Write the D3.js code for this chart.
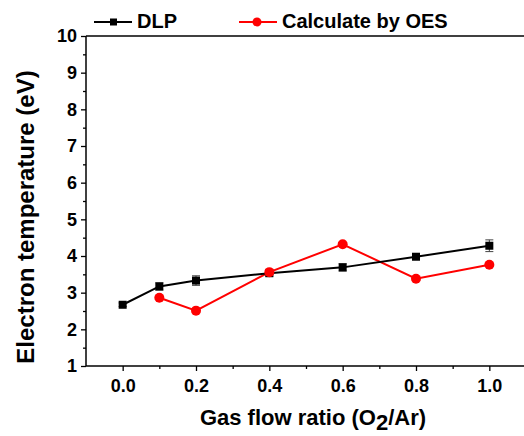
<!DOCTYPE html>
<html>
<head>
<meta charset="utf-8">
<script src="https://cdn.jsdelivr.net/npm/d3@7"></script>
<style>
  body { margin: 0; background: #fff; }
  text { font-family: "Liberation Sans", Arial, sans-serif; font-weight: bold; }
</style>
</head>
<body>
<script>
// data
var ratio = [0.0, 0.1, 0.2, 0.4, 0.6, 0.8, 1.0];
var dlp = [2.67, 3.17, 3.33, 3.53, 3.69, 3.98, 4.28];
var dlpErr = [0.05, 0.10, 0.13, 0.08, 0.10, 0.07, 0.16];
var oesRatio = [0.1, 0.2, 0.4, 0.6, 0.8, 1.0];
var oes = [2.86, 2.51, 3.56, 4.32, 3.38, 3.76];
var xTicks = [0.0, 0.2, 0.4, 0.6, 0.8, 1.0];
var yTicks = [1, 2, 3, 4, 5, 6, 7, 8, 9, 10];

var width = 524, height = 436;

var svg = d3.select("body").append("svg")
    .attr("width", width)
    .attr("height", height);

var x = d3.scaleLinear().domain([-0.1, 1.1]).range([86, 526]);
var y = d3.scaleLinear().domain([1, 10]).range([366, 36]);

// minor ticks
svg.append("g")
    .attr("transform", "translate(0,366)")
    .call(d3.axisBottom(x).tickValues([0.1, 0.3, 0.5, 0.7, 0.9]).tickSize(3).tickFormat(""))
    .call(function (g) { g.select(".domain").remove(); g.selectAll("line").attr("stroke-width", 1.3); });
svg.append("g")
    .attr("transform", "translate(86,0)")
    .call(d3.axisLeft(y).tickValues(d3.range(1.5, 10, 1)).tickSize(3).tickFormat(""))
    .call(function (g) { g.select(".domain").remove(); g.selectAll("line").attr("stroke-width", 1.3); });

// x axis
var xa = svg.append("g")
    .attr("transform", "translate(0,366)")
    .call(d3.axisBottom(x).tickValues(xTicks).tickSize(5).tickPadding(8).tickFormat(d3.format(".1f")));
// y axis
var ya = svg.append("g")
    .attr("transform", "translate(86,0)")
    .call(d3.axisLeft(y).tickValues(yTicks).tickSize(5).tickPadding(4).tickFormat(d3.format("d")));

[xa, ya].forEach(function (g) {
    g.select(".domain").remove();
    g.selectAll("line").attr("stroke-width", 1.3);
    g.selectAll("text").attr("fill", "#000").style("font-size", "18px");
});

// frame lines
svg.append("line").attr("x1", 86).attr("x2", 526).attr("y1", 366).attr("y2", 366)
    .attr("stroke", "#000").attr("stroke-width", 1.5);
svg.append("line").attr("x1", 86).attr("x2", 526).attr("y1", 36).attr("y2", 36)
    .attr("stroke", "#000").attr("stroke-width", 1.5);
svg.append("line").attr("x1", 86).attr("x2", 86).attr("y1", 36).attr("y2", 366)
    .attr("stroke", "#000").attr("stroke-width", 1.5);

// axis titles
var xt = svg.append("text")
    .attr("x", 313).attr("y", 425)
    .attr("text-anchor", "middle")
    .style("font-size", "22px");
xt.append("tspan").text("Gas flow ratio (O");
xt.append("tspan").attr("dy", 5).text("2");
xt.append("tspan").attr("dy", -5).text("/Ar)");

svg.append("text")
    .attr("transform", "translate(34,217) rotate(-90)")
    .attr("text-anchor", "middle")
    .style("font-size", "24px")
    .text("Electron temperature (eV)");

var line = d3.line()
    .x(function (d) { return x(d[0]); })
    .y(function (d) { return y(d[1]); });

// OES
var oesPts = d3.zip(oesRatio, oes);
svg.append("path").datum(oesPts)
    .attr("d", line).attr("fill", "none").attr("stroke", "#ff0000").attr("stroke-width", 2);

// DLP
var dlpPts = d3.zip(ratio, dlp, dlpErr);
svg.append("path").datum(dlpPts)
    .attr("d", line).attr("fill", "none").attr("stroke", "#000").attr("stroke-width", 2);

var eb = svg.append("g").selectAll("g").data(dlpPts).enter().append("g");
eb.append("line")
    .attr("x1", function (d) { return x(d[0]); }).attr("x2", function (d) { return x(d[0]); })
    .attr("y1", function (d) { return y(d[1] - d[2]); }).attr("y2", function (d) { return y(d[1] + d[2]); })
    .attr("stroke", "#444").attr("stroke-width", 1);
[1, -1].forEach(function (s) {
    eb.append("line")
        .attr("x1", function (d) { return x(d[0]) - 4; }).attr("x2", function (d) { return x(d[0]) + 4; })
        .attr("y1", function (d) { return y(d[1] + s * d[2]); }).attr("y2", function (d) { return y(d[1] + s * d[2]); })
        .attr("stroke", "#444").attr("stroke-width", 1);
});

svg.append("g").selectAll("rect").data(dlpPts).enter().append("rect")
    .attr("x", function (d) { return x(d[0]) - 4; })
    .attr("y", function (d) { return y(d[1]) - 4; })
    .attr("width", 8).attr("height", 8)
    .attr("fill", "#000");

svg.append("g").selectAll("circle").data(oesPts).enter().append("circle")
    .attr("cx", function (d) { return x(d[0]); })
    .attr("cy", function (d) { return y(d[1]); })
    .attr("r", 5)
    .attr("fill", "#ff0000");

// legend
var lg = svg.append("g");
lg.append("line").attr("x1", 94).attr("x2", 132).attr("y1", 22).attr("y2", 22)
    .attr("stroke", "#000").attr("stroke-width", 2);
lg.append("rect").attr("x", 110).attr("y", 18.5).attr("width", 7).attr("height", 7).attr("fill", "#000");
lg.append("text").attr("x", 137).attr("y", 28).style("font-size", "20px").text("DLP");
lg.append("line").attr("x1", 239).attr("x2", 277).attr("y1", 22).attr("y2", 22)
    .attr("stroke", "#ff0000").attr("stroke-width", 2);
lg.append("circle").attr("cx", 257).attr("cy", 22).attr("r", 4.5).attr("fill", "#ff0000");
lg.append("text").attr("x", 282).attr("y", 28).style("font-size", "20px").text("Calculate by OES");
</script>
</body>
</html>
